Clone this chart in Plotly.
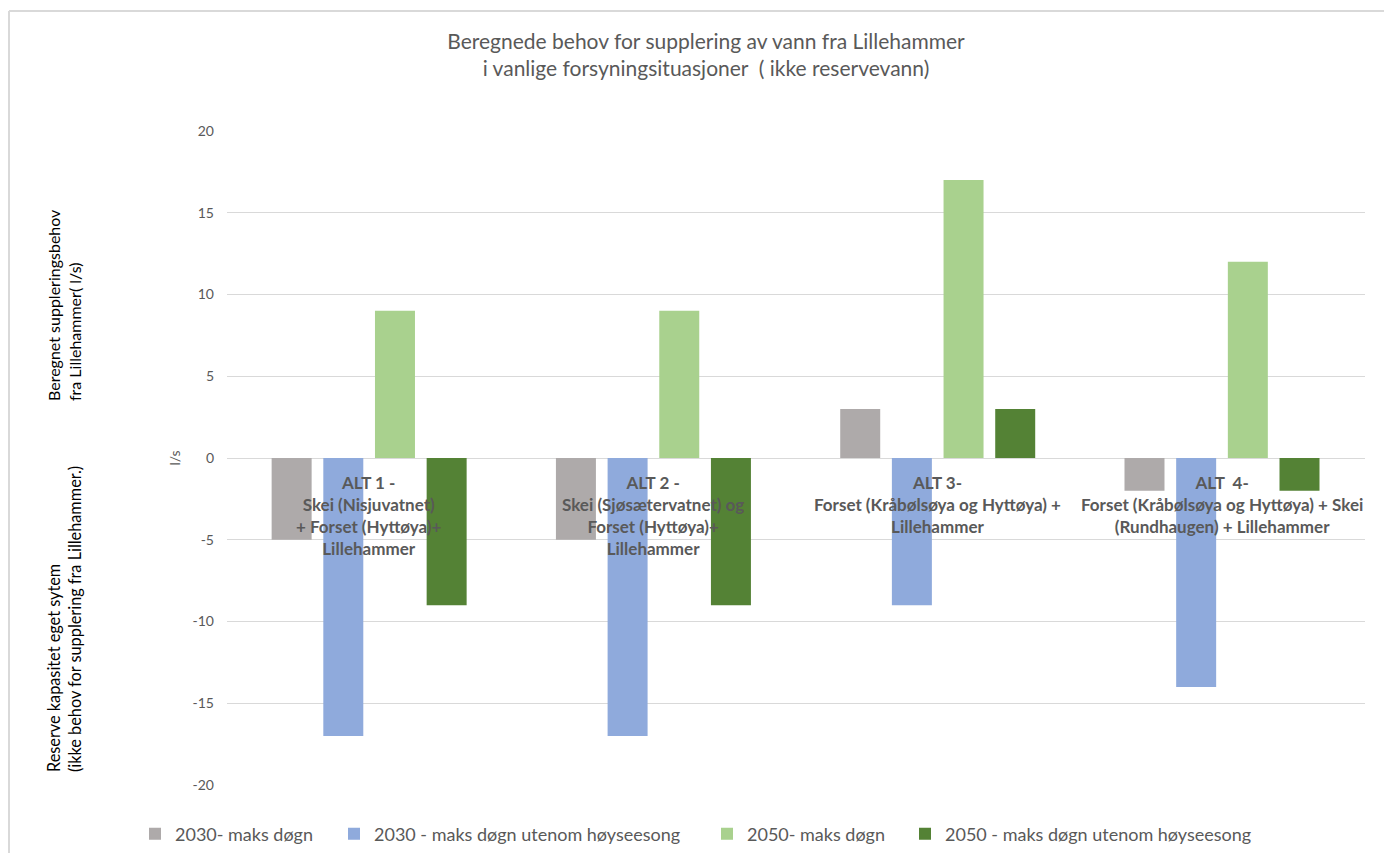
import plotly.graph_objects as go

categories = ["ALT 1", "ALT 2", "ALT 3", "ALT 4"]
category_labels = [
    "ALT 1 -<br>Skei (Nisjuvatnet)<br>+ Forset (Hyttøya)+<br>Lillehammer",
    "ALT 2 -<br>Skei (Sjøsætervatnet) og<br>Forset (Hyttøya)+<br>Lillehammer",
    "ALT 3-<br>Forset (Kråbølsøya og Hyttøya) +<br>Lillehammer",
    "ALT  4-<br>Forset (Kråbølsøya og Hyttøya) + Skei<br>(Rundhaugen) + Lillehammer",
]
series_names = [
    "2030- maks døgn",
    "2030 - maks døgn utenom høyseesong",
    "2050- maks døgn",
    "2050 - maks døgn utenom høyseesong",
]
v2030_maks = [-5, -5, 3, -2]
v2030_utenom = [-17, -17, -9, -14]
v2050_maks = [9, 9, 17, 12]
v2050_utenom = [-9, -9, 3, -2]
series_values = [v2030_maks, v2030_utenom, v2050_maks, v2050_utenom]
colors = ["#AEAAAA", "#8FAADC", "#A9D18E", "#548235"]
y_ticks = [-20, -15, -10, -5, 0, 5, 10, 15, 20]

FONT = "Lato, 'Open Sans', sans-serif"
GREY = "#595959"

W, H = 1384, 853
L, R, T, B = 227, 19, 131, 68
PW, PH = W - L - R, H - T - B


def px_x(px):
    return (px - L) / PW


def px_y(py):
    return (H - B - py) / PH


fig = go.Figure()
legend_ids = ["legend", "legend2", "legend3", "legend4"]
legend_text_x = [173, 372, 745, 943]
for name, vals, col, lg in zip(series_names, series_values, colors, legend_ids):
    fig.add_trace(go.Bar(x=categories, y=vals, name=name, marker_color=col,
                         marker_line_width=0, legend=lg, showlegend=True))

legends = {}
for lg, tx in zip(legend_ids, legend_text_x):
    legends[lg] = dict(
        x=px_x(tx - 38), y=px_y(834), xanchor="left", yanchor="middle",
        orientation="h", bgcolor="rgba(0,0,0,0)",
        font=dict(family=FONT, size=18, color=GREY),
        itemclick=False, itemdoubleclick=False,
    )

annotations = []
for cat, lab in zip(categories, category_labels):
    annotations.append(dict(
        x=cat, y=0, xref="x", yref="y", text="<b>" + lab + "</b>",
        showarrow=False, xanchor="center", yanchor="top", yshift=-12,
        font=dict(family=FONT, size=17, color=GREY), align="center",
    ))

annotations.append(dict(
    x=px_x(64), y=px_y(403), xref="paper", yref="paper",
    text="Beregnet suppleringsbehov<br>fra Lillehammer( l/s)",
    showarrow=False, textangle=-90, xanchor="center", yanchor="bottom",
    align="left", font=dict(family=FONT, size=16, color="#000000"),
))
annotations.append(dict(
    x=px_x(64), y=px_y(774), xref="paper", yref="paper",
    text="Reserve kapasitet eget sytem<br>(ikke behov for supplering fra Lillehammer.)",
    showarrow=False, textangle=-90, xanchor="center", yanchor="bottom",
    align="left", font=dict(family=FONT, size=16.3, color="#000000"),
))

shapes = [
    dict(type="line", xref="paper", yref="paper",
         x0=px_x(9), x1=px_x(1500), y0=px_y(11), y1=px_y(11),
         line=dict(color="#D9D9D9", width=2)),
    dict(type="line", xref="paper", yref="paper",
         x0=px_x(9), x1=px_x(9), y0=px_y(11), y1=px_y(1000),
         line=dict(color="#D9D9D9", width=2)),
]

fig.update_layout(
    width=W, height=H,
    margin=dict(l=L, r=R, t=T, b=B, pad=0, autoexpand=False),
    showlegend=True,
    paper_bgcolor="white", plot_bgcolor="white",
    barmode="group", bargap=0.273, bargroupgap=0.226,
    title=dict(
        text="Beregnede behov for supplering av vann fra Lillehammer<br>i vanlige forsyningsituasjoner  ( ikke reservevann)",
        x=706 / W, xanchor="center", xref="container",
        y=1 - 49 / H, yanchor="middle", yref="container",
        font=dict(family=FONT, size=21, color=GREY),
    ),
    xaxis=dict(showticklabels=False, showgrid=False, showline=False,
               zeroline=False, ticks=""),
    yaxis=dict(range=[-20, 20], tickvals=y_ticks, ticktext=[str(t) for t in y_ticks],
               showgrid=True, gridcolor="#D9D9D9", gridwidth=1,
               zeroline=True, zerolinecolor="#D9D9D9", zerolinewidth=1,
               showline=False, ticks="", ticklabelstandoff=12,
               tickfont=dict(family=FONT, size=14, color=GREY),
               title=dict(text="l/s", standoff=8,
                          font=dict(family=FONT, size=14, color=GREY))),
    annotations=annotations,
    shapes=shapes,
    font=dict(family=FONT, color=GREY),
    **legends,
)

fig.write_html("out.html")
